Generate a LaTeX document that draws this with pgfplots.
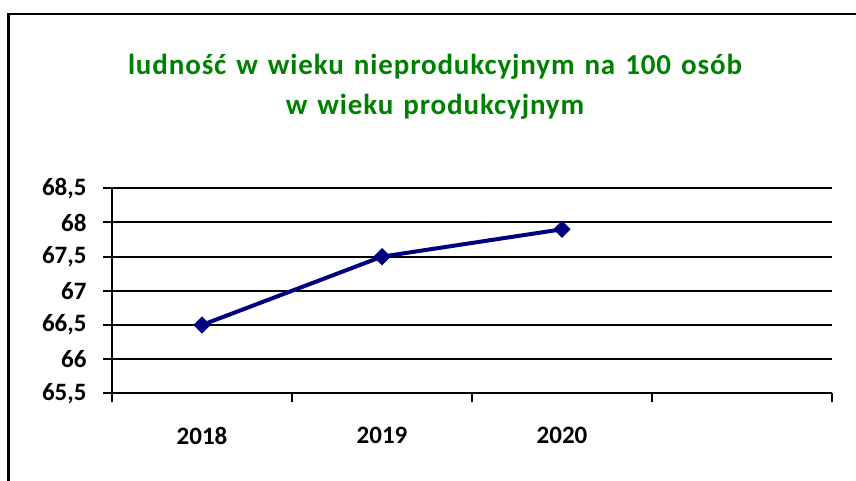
\documentclass[border=0pt]{standalone}
\usepackage{fontspec}
\setmainfont{Carlito}
\newfontfamily\titlefamily[LetterSpace=3]{Carlito}
\newcommand\titlesetup{\titlefamily\bfseries\fontsize{29bp}{40bp}\selectfont\spaceskip=10bp\relax}
\usepackage{pgfplots}
\pgfplotsset{compat=1.18}
\definecolor{titlegreen}{RGB}{0,128,0}
\definecolor{navyline}{RGB}{0,0,128}
\begin{document}
\begin{tikzpicture}[x=1bp,y=1bp]
\begin{axis}[
  name=ax,
  scale only axis, width=720bp, height=205bp,
  xmin=-0.5, xmax=3.5, ymin=65.5, ymax=68.5,
  axis x line=bottom, axis y line=left,
  axis line style={-, line width=2bp, black},
  xtick={-0.5,0.5,1.5,2.5,3.5},
  xticklabels={2018,2019,2020,{}},
  x tick label as interval,
  ytick={65.5,66,66.5,67,67.5,68,68.5},
  yticklabels={{65,5},66,{66,5},67,{67,5},68,{68,5}},
  tick align=outside,
  major tick length=9bp,
  tick style={line width=2bp, black},
  ymajorgrids,
  major grid style={line width=2bp, black},
  tick label style={font=\fontsize{25bp}{30bp}\selectfont\bfseries},
  xticklabel style={yshift=-21bp},
  yticklabel style={xshift=-13bp},
  clip=false,
]
\addplot[color=navyline, line width=4bp, mark=square*, mark size=5.6bp, mark options={rotate=45, fill=navyline, line width=1bp}]
  coordinates {(0,66.5) (1,67.5) (2,67.9)};
\coordinate (O) at (rel axis cs:0,0);
\end{axis}
\begin{scope}[shift={(O)}]
\draw[line width=2.5bp] (-103.7,-100) -- (-103.7,379.3) -- (760,379.3);
\node[align=center, text=titlegreen, font=\titlesetup] at (323,306.3) {ludność w wieku nieprodukcyjnym na 100 osób\\w wieku produkcyjnym};
\end{scope}
\pgfresetboundingbox
\path[use as bounding box, shift={(O)}] (-112,-87.7) rectangle (744,393.3);
\end{tikzpicture}
\end{document}
